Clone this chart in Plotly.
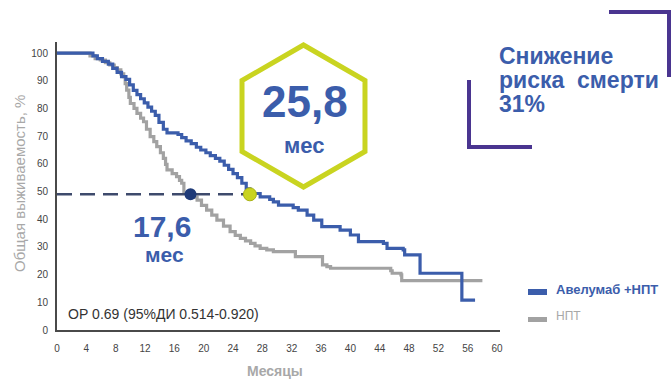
import plotly.graph_objects as go

# ---------------- data ----------------
avel_t = [0, 4.9, 5.5, 6.2, 7.0, 7.6, 8.2, 8.8, 9.4, 9.9, 10.4, 10.9, 11.4, 11.9, 12.4, 12.9,
          13.4, 13.9, 14.5, 15.0, 16.5, 17.0, 17.6, 18.3, 19.0, 19.6, 20.3, 20.9, 21.6, 22.2,
          22.8, 23.4, 24.0, 24.6, 25.2, 25.8, 26.3, 27.7, 29.0, 29.5, 30.2, 32.2, 32.9, 34.1,
          35.0, 36.1, 38.6, 40.0, 41.1, 44.5, 45.0, 47.2, 47.4, 49.5, 55.2, 57.0]
avel_s = [100, 99, 98, 97, 96, 94.5, 93, 91.5, 90.5, 88.5, 86.5, 85, 83.5, 82, 80.5, 79,
          77.5, 75, 72.5, 71.2, 70.6, 69.5, 68.3, 67.3, 66, 65, 64, 63, 62, 61,
          59.5, 58, 56.5, 55, 53, 51, 49.3, 48.1, 47.2, 46.3, 45.1, 44.2, 43.3, 41.5,
          39.7, 37.3, 36.1, 34.3, 31.9, 31.3, 29.5, 28.9, 27.1, 20.5, 10.8, 10.8]

npt_t = [0, 4.5, 5.2, 5.9, 6.6, 7.2, 7.8, 8.2, 8.7, 9.1, 9.3, 9.5, 9.8, 10.0, 10.5, 10.9,
         11.4, 11.8, 12.2, 12.7, 13.2, 13.6, 14.1, 14.5, 14.8, 15.0, 15.7, 16.3, 16.7, 17.0,
         17.3, 18.2, 19.1, 19.7, 20.4, 21.1, 21.8, 22.7, 23.6, 24.3, 25.0, 25.7, 26.4, 27.0,
         27.7, 28.6, 29.5, 32.5, 36.2, 36.8, 37.3, 45.5, 45.7, 46.9, 47.0, 58.0]
npt_s = [100, 99, 98, 97.5, 96.5, 95.7, 94.8, 93.9, 92.5, 91.5, 89, 86.6, 84, 81.8, 80, 78.2,
         76.5, 75.2, 72.5, 69.8, 68, 66.2, 64, 62, 59.8, 57.8, 56.5, 55.4, 54, 53,
         49.3, 48, 46.9, 45, 43.3, 41.5, 39.7, 37.5, 35.5, 34.2, 33.1, 32.2, 31.3, 30.4,
         29.5, 28.9, 28.3, 26.5, 23.5, 22.9, 22.3, 21.4, 20.5, 19.9, 17.8, 17.8]

median_level = 49
median_npt = 18.2      # 17,6 mo marker
median_avel = 26.3     # 25,8 mo marker

x_ticks = list(range(0, 61, 4))
y_ticks = list(range(0, 101, 10))

series_names = ["Авелумаб +НПТ", "НПТ"]

# ---------------- style ----------------
BLUE = "#3b5dab"
GRAY = "#a2a2a2"
NAVY = "#1f3a78"
LIME = "#c9d420"
PURPLE = "#4a3590"
FONT = "Liberation Sans"

L, R, T, B = 57, 500, 42, 330  # plot box in window pixels
W, H = 671, 379


def P(px, py):
    return (px - L) / (R - L), (B - py) / (B - T)


fig = go.Figure()
fig.add_trace(go.Scatter(x=npt_t, y=npt_s, mode="lines", line=dict(color=GRAY, width=3.2, shape="hv"),
                         name=series_names[1], showlegend=False))
fig.add_trace(go.Scatter(x=avel_t, y=avel_s, mode="lines", line=dict(color=BLUE, width=3.2, shape="hv"),
                         name=series_names[0], showlegend=False))
fig.add_trace(go.Scatter(x=[0, median_avel], y=[median_level, median_level], mode="lines",
                         line=dict(color="#3e4a6c", width=2.5, dash="15px,8px"), showlegend=False))
fig.add_trace(go.Scatter(x=[median_npt], y=[median_level], mode="markers",
                         marker=dict(color=NAVY, size=12), showlegend=False))
fig.add_trace(go.Scatter(x=[median_avel], y=[median_level], mode="markers",
                         marker=dict(color=LIME, size=13, line=dict(color="#a9b216", width=1)),
                         showlegend=False))

shapes = []
# hexagon
cx, cy, rr = 303.5, 116, 71
hx = 0.866 * rr
pts = [(cx, cy - rr), (cx + hx, cy - rr / 2), (cx + hx, cy + rr / 2), (cx, cy + rr),
       (cx - hx, cy + rr / 2), (cx - hx, cy - rr / 2)]
path = "M " + " L ".join("%f %f" % P(*p) for p in pts) + " Z"
shapes.append(dict(type="path", xref="paper", yref="paper", path=path,
                   line=dict(color=LIME, width=5), fillcolor="rgba(0,0,0,0)"))
# purple brackets
for seg in ([(609, 12), (669, 12), (669, 77)], [(469, 80), (469, 147), (532, 147)]):
    path = "M " + " L ".join("%f %f" % P(*p) for p in seg)
    shapes.append(dict(type="path", xref="paper", yref="paper", path=path,
                       line=dict(color=PURPLE, width=4)))
# legend swatches
for (y0, y1, c) in ((289, 295, BLUE), (317, 322, GRAY)):
    x0p, y0p = P(528, y1)
    x1p, y1p = P(547, y0)
    shapes.append(dict(type="rect", xref="paper", yref="paper", x0=x0p, y0=y0p, x1=x1p, y1=y1p,
                       fillcolor=c, line=dict(width=0)))

annotations = []


def ann(text, px, py, size, color, bold=False, xanchor="center", angle=0):
    x, y = P(px, py)
    annotations.append(dict(text=text, x=x, y=y, xref="paper", yref="paper", showarrow=False,
                            xanchor=xanchor, yanchor="middle", textangle=angle, borderpad=0,
                            font=dict(family=FONT, size=size, color=color,
                                      weight="bold" if bold else "normal")))


ann("25,8", 305, 101, 44, BLUE, True)
ann("мес", 304, 145, 22, BLUE, True)
ann("17,6", 162, 226, 30, BLUE, True)
ann("мес", 164, 254, 21, BLUE, True)
ann("Снижение", 498, 56, 23, BLUE, True, "left")
ann("риска  смерти", 498, 80, 23, BLUE, True, "left")
ann("31%", 498, 104, 23, BLUE, True, "left")
ann("ОР 0.69 (95%ДИ 0.514-0.920)", 67, 314, 14, "#333333", False, "left")
ann(series_names[0], 555, 289, 13, BLUE, True, "left")
ann(series_names[1], 555, 316, 12, "#a8a8a8", False, "left")
ann("Месяцы", 275, 371, 14, "#a8a8a8", True)
ann("Общая выживаемость, %", 19, 184, 15, "#a8a8a8", False, "center", -90)

fig.update_layout(
    width=W, height=H,
    margin=dict(l=L, r=W - R, t=T, b=H - B),
    plot_bgcolor="white", paper_bgcolor="white",
    shapes=shapes, annotations=annotations,
    hovermode=False,
    xaxis=dict(range=[0, 60.4], tickvals=x_ticks, showgrid=False, zeroline=False,
               showline=True, linecolor="#4a4a4a", linewidth=2, ticks="",
               ticklabelstandoff=8,
               tickfont=dict(family=FONT, size=10, color="#444444")),
    yaxis=dict(range=[0, 104], tickvals=y_ticks, showgrid=False, zeroline=False,
               showline=True, linecolor="#4a4a4a", linewidth=2, ticks="",
               ticklabelstandoff=5,
               tickfont=dict(family=FONT, size=10, color="#444444")),
)

fig.write_html("out.html", config={"displayModeBar": False},
               post_script="document.body.style.margin='0';document.body.style.overflow='hidden';")
